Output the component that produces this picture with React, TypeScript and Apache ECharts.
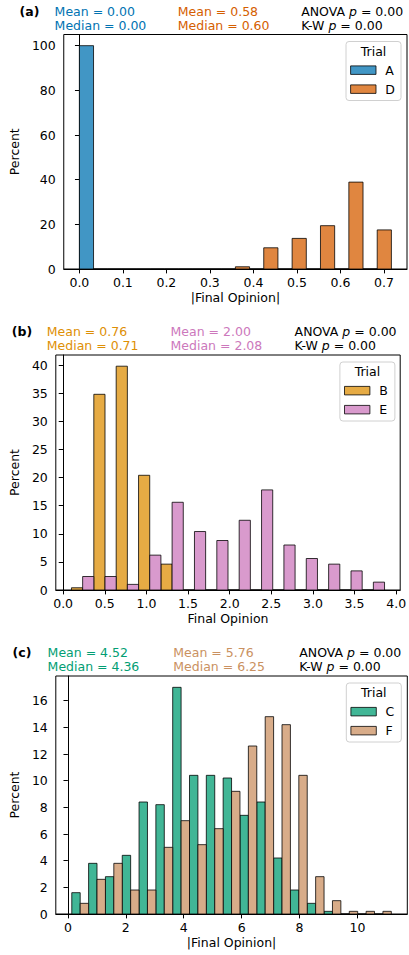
import React, { useEffect, useRef } from "react";
import * as echarts from "echarts";

// ---------------- data ----------------
// Panel (a)
const binStartA = 0;
const binWidthA = 0.0652;
const trialA = [100, 0, 0, 0, 0, 0, 0, 0, 0, 0, 0];
const trialD = [0, 0, 0, 0, 0, 1.0, 9.5, 13.7, 19.4, 38.9, 17.5];
const statsA = ["Mean = 0.00", "Median = 0.00"];
const statsD = ["Mean = 0.58", "Median = 0.60"];
const testsA = ["ANOVA {it|p} = 0.00", "K-W {it|p} = 0.00"];
const xTicksA = [0, 0.1, 0.2, 0.3, 0.4, 0.5, 0.6, 0.7];
const yTicksA = [0, 20, 40, 60, 80, 100];

// Panel (b)
const binStartB = 0.1;
const binWidthB = 0.2686;
const trialB = [0.4, 34.8, 39.8, 20.4, 4.6, 0, 0, 0, 0, 0, 0, 0, 0, 0];
const trialE = [2.4, 2.4, 1.0, 6.2, 15.6, 10.4, 8.8, 12.4, 17.8, 8.0, 5.6, 4.6, 3.4, 1.4];
const statsB = ["Mean = 0.76", "Median = 0.71"];
const statsE = ["Mean = 2.00", "Median = 2.08"];
const testsB = ["ANOVA {it|p} = 0.00", "K-W {it|p} = 0.00"];
const xTicksB = [0, 0.5, 1, 1.5, 2, 2.5, 3, 3.5, 4];
const yTicksB = [0, 5, 10, 15, 20, 25, 30, 35, 40];

// Panel (c)
const binStartC = 0.135;
const binWidthC = 0.5808;
const trialC = [1.6, 3.8, 2.8, 4.4, 8.4, 8.2, 17.0, 10.4, 10.4, 10.2, 7.4, 8.4, 4.2, 1.8, 0.8, 0.2, 0, 0, 0];
const trialF = [0.8, 2.6, 3.8, 1.8, 1.8, 5.0, 7.0, 5.2, 6.4, 9.2, 12.6, 14.8, 14.2, 10.4, 2.8, 1.0, 0.2, 0.2, 0.2];
const statsC = ["Mean = 4.52", "Median = 4.36"];
const statsF = ["Mean = 5.76", "Median = 6.25"];
const testsC = ["ANOVA {it|p} = 0.00", "K-W {it|p} = 0.00"];
const xTicksC = [0, 2, 4, 6, 8, 10];
const yTicksC = [0, 2, 4, 6, 8, 10, 12, 14, 16];

// ---------------- styles ----------------
const FONT = "DejaVu Sans";
const FS = 12.5;
const EDGE = "rgba(0,0,0,0.78)";
const colors: Record<string, { fill: string; text: string }> = {
  A: { fill: "#4196c5", text: "#0173b2" },
  D: { fill: "#e08640", text: "#d55e00" },
  B: { fill: "#e6ab44", text: "#de8f05" },
  E: { fill: "#d99acd", text: "#cc78bc" },
  C: { fill: "#41b696", text: "#029e73" },
  F: { fill: "#d8ac89", text: "#ca9161" },
};

type Panel = {
  label: string;
  frame: { left: number; top: number; width: number; height: number };
  binStart: number;
  binWidth: number;
  names: [string, string];
  values: [number[], number[]];
  stats: [string[], string[]];
  tests: string[];
  xTicks: number[];
  yTicks: number[];
  xDec: number;
  xName: string;
  yNameGap: number;
};

const panels: Panel[] = [
  {
    label: "(a)",
    frame: { left: 54.3, top: 34.5, width: 352.7, height: 234.5 },
    binStart: binStartA,
    binWidth: binWidthA,
    names: ["A", "D"],
    values: [trialA, trialD],
    stats: [statsA, statsD],
    tests: testsA,
    xTicks: xTicksA,
    yTicks: yTicksA,
    xDec: 1,
    xName: "|Final Opinion|",
    yNameGap: 38.5,
  },
  {
    label: "(b)",
    frame: { left: 46.5, top: 355, width: 354.4, height: 235 },
    binStart: binStartB,
    binWidth: binWidthB,
    names: ["B", "E"],
    values: [trialB, trialE],
    stats: [statsB, statsE],
    tests: testsB,
    xTicks: xTicksB,
    yTicks: yTicksB,
    xDec: 1,
    xName: "Final Opinion",
    yNameGap: 30.5,
  },
  {
    label: "(c)",
    frame: { left: 47.3, top: 676, width: 360, height: 238 },
    binStart: binStartC,
    binWidth: binWidthC,
    names: ["C", "F"],
    values: [trialC, trialF],
    stats: [statsC, statsF],
    tests: testsC,
    xTicks: xTicksC,
    yTicks: yTicksC,
    xDec: 0,
    xName: "|Final Opinion|",
    yNameGap: 31,
  },
];

function buildOption() {
  const grid: any[] = [];
  const xAxis: any[] = [];
  const yAxis: any[] = [];
  const series: any[] = [];
  const graphic: any[] = [];

  panels.forEach((p, gi) => {
    const nBins = p.values[0].length;
    const binEnd = p.binStart + nBins * p.binWidth;
    const range = binEnd - p.binStart;
    const xMin = p.binStart - 0.05 * range;
    const xMax = binEnd + 0.05 * range;
    const yMax = 1.05 * Math.max(...p.values[0], ...p.values[1]);
    const f = p.frame;

    grid.push({
      left: f.left,
      top: f.top,
      width: f.width,
      height: f.height,
      show: true,
      borderColor: "#000",
      borderWidth: 1,
      backgroundColor: "transparent",
      containLabel: false,
    });

    xAxis.push({
      type: "value",
      gridIndex: gi,
      min: xMin,
      max: xMax,
      position: "bottom",
      name: p.xName,
      nameLocation: "middle",
      nameGap: 22,
      nameTextStyle: { fontFamily: FONT, fontSize: FS, color: "#000" },
      axisLine: { show: true, onZero: false, lineStyle: { color: "#000", width: 1 } },
      axisTick: { show: true, inside: false, length: 4.4, customValues: p.xTicks, lineStyle: { color: "#000", width: 1 } },
      axisLabel: {
        customValues: p.xTicks,
        formatter: (v: number) => v.toFixed(p.xDec),
        margin: 7,
        fontFamily: FONT,
        fontSize: FS,
        color: "#000",
      },
      splitLine: { show: false },
    });

    yAxis.push({
      type: "value",
      gridIndex: gi,
      min: 0,
      max: yMax,
      name: "Percent",
      nameLocation: "middle",
      nameGap: p.yNameGap,
      nameRotate: 90,
      nameTextStyle: { fontFamily: FONT, fontSize: FS, color: "#000" },
      axisLine: { show: true, lineStyle: { color: "#000", width: 1 } },
      axisTick: { show: true, inside: false, length: 4.4, customValues: p.yTicks, lineStyle: { color: "#000", width: 1 } },
      axisLabel: {
        customValues: p.yTicks,
        formatter: (v: number) => String(Math.round(v)),
        margin: 8,
        fontFamily: FONT,
        fontSize: FS,
        color: "#000",
      },
      splitLine: { show: false },
    });

    p.names.forEach((name, hue) => {
      const vals = p.values[hue];
      const data = vals.map((v, i) => {
        const x0 = p.binStart + i * p.binWidth + (hue * p.binWidth) / 2;
        return [x0, x0 + p.binWidth / 2, v];
      });
      const col = colors[name].fill;
      series.push({
        type: "custom",
        name,
        xAxisIndex: gi,
        yAxisIndex: gi,
        data,
        encode: { x: [0, 1], y: 2 },
        itemStyle: { color: col, borderColor: EDGE },
        renderItem: (params: any, api: any) => {
          const p0 = api.coord([api.value(0), api.value(2)]);
          const p1 = api.coord([api.value(1), 0]);
          return {
            type: "rect",
            shape: { x: p0[0], y: p0[1], width: p1[0] - p0[0], height: p1[1] - p0[1] },
            style: { fill: col, stroke: EDGE, lineWidth: 1 },
          };
        },
      });
    });

    // header texts
    const row1 = f.top - 23.5;
    const row2 = f.top - 9.5;
    graphic.push({
      type: "text",
      x: f.left - 34.7,
      y: row1,
      style: { text: p.label, fontFamily: FONT, fontSize: FS, fontWeight: "bold", fill: "#000", verticalAlign: "middle" },
    });
    const cols = [f.left + 0.3, f.left + 0.35 * f.width];
    p.names.forEach((name, hue) => {
      p.stats[hue].forEach((t, r) => {
        graphic.push({
          type: "text",
          x: cols[hue],
          y: r === 0 ? row1 : row2,
          style: { text: t, fontFamily: FONT, fontSize: FS, fill: colors[name].text, verticalAlign: "middle" },
        });
      });
    });
    p.tests.forEach((t, r) => {
      graphic.push({
        type: "text",
        x: f.left + 0.7 * f.width,
        y: r === 0 ? row1 : row2,
        style: {
          text: t,
          fontFamily: FONT,
          fontSize: FS,
          fill: "#000",
          verticalAlign: "middle",
          rich: { it: { fontFamily: FONT, fontSize: FS, fontStyle: "italic", fill: "#000" } },
        },
      });
    });

    // legend
    const bw = 55;
    const bh = 59;
    const bx = f.left + f.width - 6 - bw;
    const by = f.top + 7;
    graphic.push({
      type: "rect",
      x: bx,
      y: by,
      shape: { x: 0, y: 0, width: bw, height: bh, r: 3 },
      style: { fill: "rgba(255,255,255,0.8)", stroke: "#d0d0d0", lineWidth: 1 },
      z: 10,
    });
    graphic.push({
      type: "text",
      x: bx + bw / 2,
      y: by + 9.6,
      z: 11,
      style: { text: "Trial", fontFamily: FONT, fontSize: FS, fill: "#000", align: "center", verticalAlign: "middle" },
    });
    p.names.forEach((name, hue) => {
      const py = by + 24.4 + hue * 19;
      graphic.push({
        type: "rect",
        x: bx + 4.6,
        y: py,
        z: 11,
        shape: { x: 0, y: 0, width: 25.4, height: 8.5 },
        style: { fill: colors[name].fill, stroke: EDGE, lineWidth: 1 },
      });
      graphic.push({
        type: "text",
        x: bx + 39.3,
        y: py + 4.5,
        z: 11,
        style: { text: name, fontFamily: FONT, fontSize: FS, fill: "#000", verticalAlign: "middle" },
      });
    });
  });

  return {
    animation: false,
    backgroundColor: "#fff",
    textStyle: { fontFamily: FONT },
    grid,
    xAxis,
    yAxis,
    series,
    graphic,
  };
}

export default function App() {
  const ref = useRef<HTMLDivElement>(null);
  useEffect(() => {
    if (!ref.current) return;
    const chart = echarts.init(ref.current, undefined, { renderer: "svg" });
    chart.setOption(buildOption() as any);
    return () => chart.dispose();
  }, []);
  return (
    <div
      ref={ref}
      style={{ position: "absolute", left: 0, top: 0, width: 409, height: 955, background: "#fff" }}
    />
  );
}
